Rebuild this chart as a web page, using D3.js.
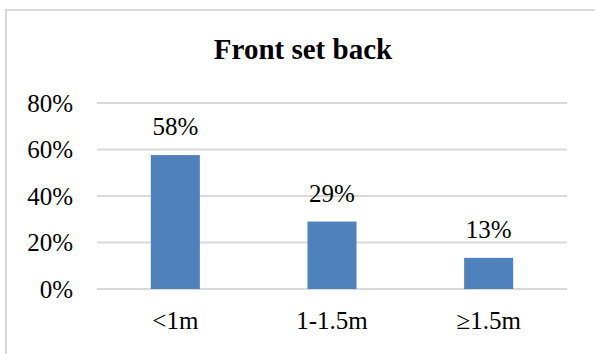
<!DOCTYPE html>
<html><head>
<meta charset="utf-8">
<script src="https://d3js.org/d3.v7.min.js"></script>
<style>
  body { margin: 0; background: #fff; }
  text { font-family: "Liberation Serif", "Times New Roman", serif; fill: #000; }
  .grid line { stroke: #d9d9d9; stroke-width: 2px; }
  .bar { fill: #4f81bd; }
</style>
</head>
<body>
<svg id="chart" width="595" height="354"></svg>
<script>
  // data
  const categories = ["<1m", "1-1.5m", "≥1.5m"];
  const values = [0.576, 0.29, 0.134];
  const yTicks = [0, 0.2, 0.4, 0.6, 0.8];

  const svg = d3.select("#chart");

  // outer chart frame (only top and left edges show, rest is cropped)
  svg.append("path")
     .attr("d", "M6,354 V10 H595")
     .attr("fill", "none")
     .attr("stroke", "#d9d9d9")
     .attr("stroke-width", 2);

  const plot = { left: 97, right: 567, top: 103, bottom: 289 };

  const x = d3.scaleBand().domain(categories)
              .range([plot.left, plot.right])
              .paddingInner(0.687).paddingOuter(0.3435);
  const y = d3.scaleLinear().domain([0, 0.8]).range([plot.bottom, plot.top]);

  function label(g, tx, ty, str, size, anchor, weight) {
    g.append("text")
     .attr("x", tx).attr("y", ty)
     .attr("text-anchor", anchor)
     .style("font-size", size + "px")
     .style("font-weight", weight || "normal")
     .text(str);
  }

  // gridlines
  svg.append("g").attr("class", "grid")
     .selectAll("line").data(yTicks)
     .join("line")
     .attr("x1", plot.left).attr("x2", plot.right)
     .attr("y1", d => y(d)).attr("y2", d => y(d));

  // y tick labels
  const fmt = d3.format(".0%");
  const yl = svg.append("g");
  yTicks.forEach(t => label(yl, 73, y(t) + 8.5, fmt(t), 25, "end"));

  // bars
  svg.selectAll("rect.bar").data(values)
     .join("rect")
     .attr("class", "bar")
     .attr("x", (d, i) => x(categories[i]))
     .attr("width", x.bandwidth())
     .attr("y", d => y(d))
     .attr("height", d => y(0) - y(d));

  // data labels
  const dl = svg.append("g");
  values.forEach((v, i) => label(dl, x(categories[i]) + x.bandwidth() / 2, y(v) - 20, fmt(v), 25, "middle"));

  // category labels
  const xl = svg.append("g");
  categories.forEach(c => label(xl, x(c) + x.bandwidth() / 2, 329, c, 25, "middle"));

  // title
  label(svg, 303, 59, "Front set back", 29, "middle", "bold");
</script>
</body>
</html>
